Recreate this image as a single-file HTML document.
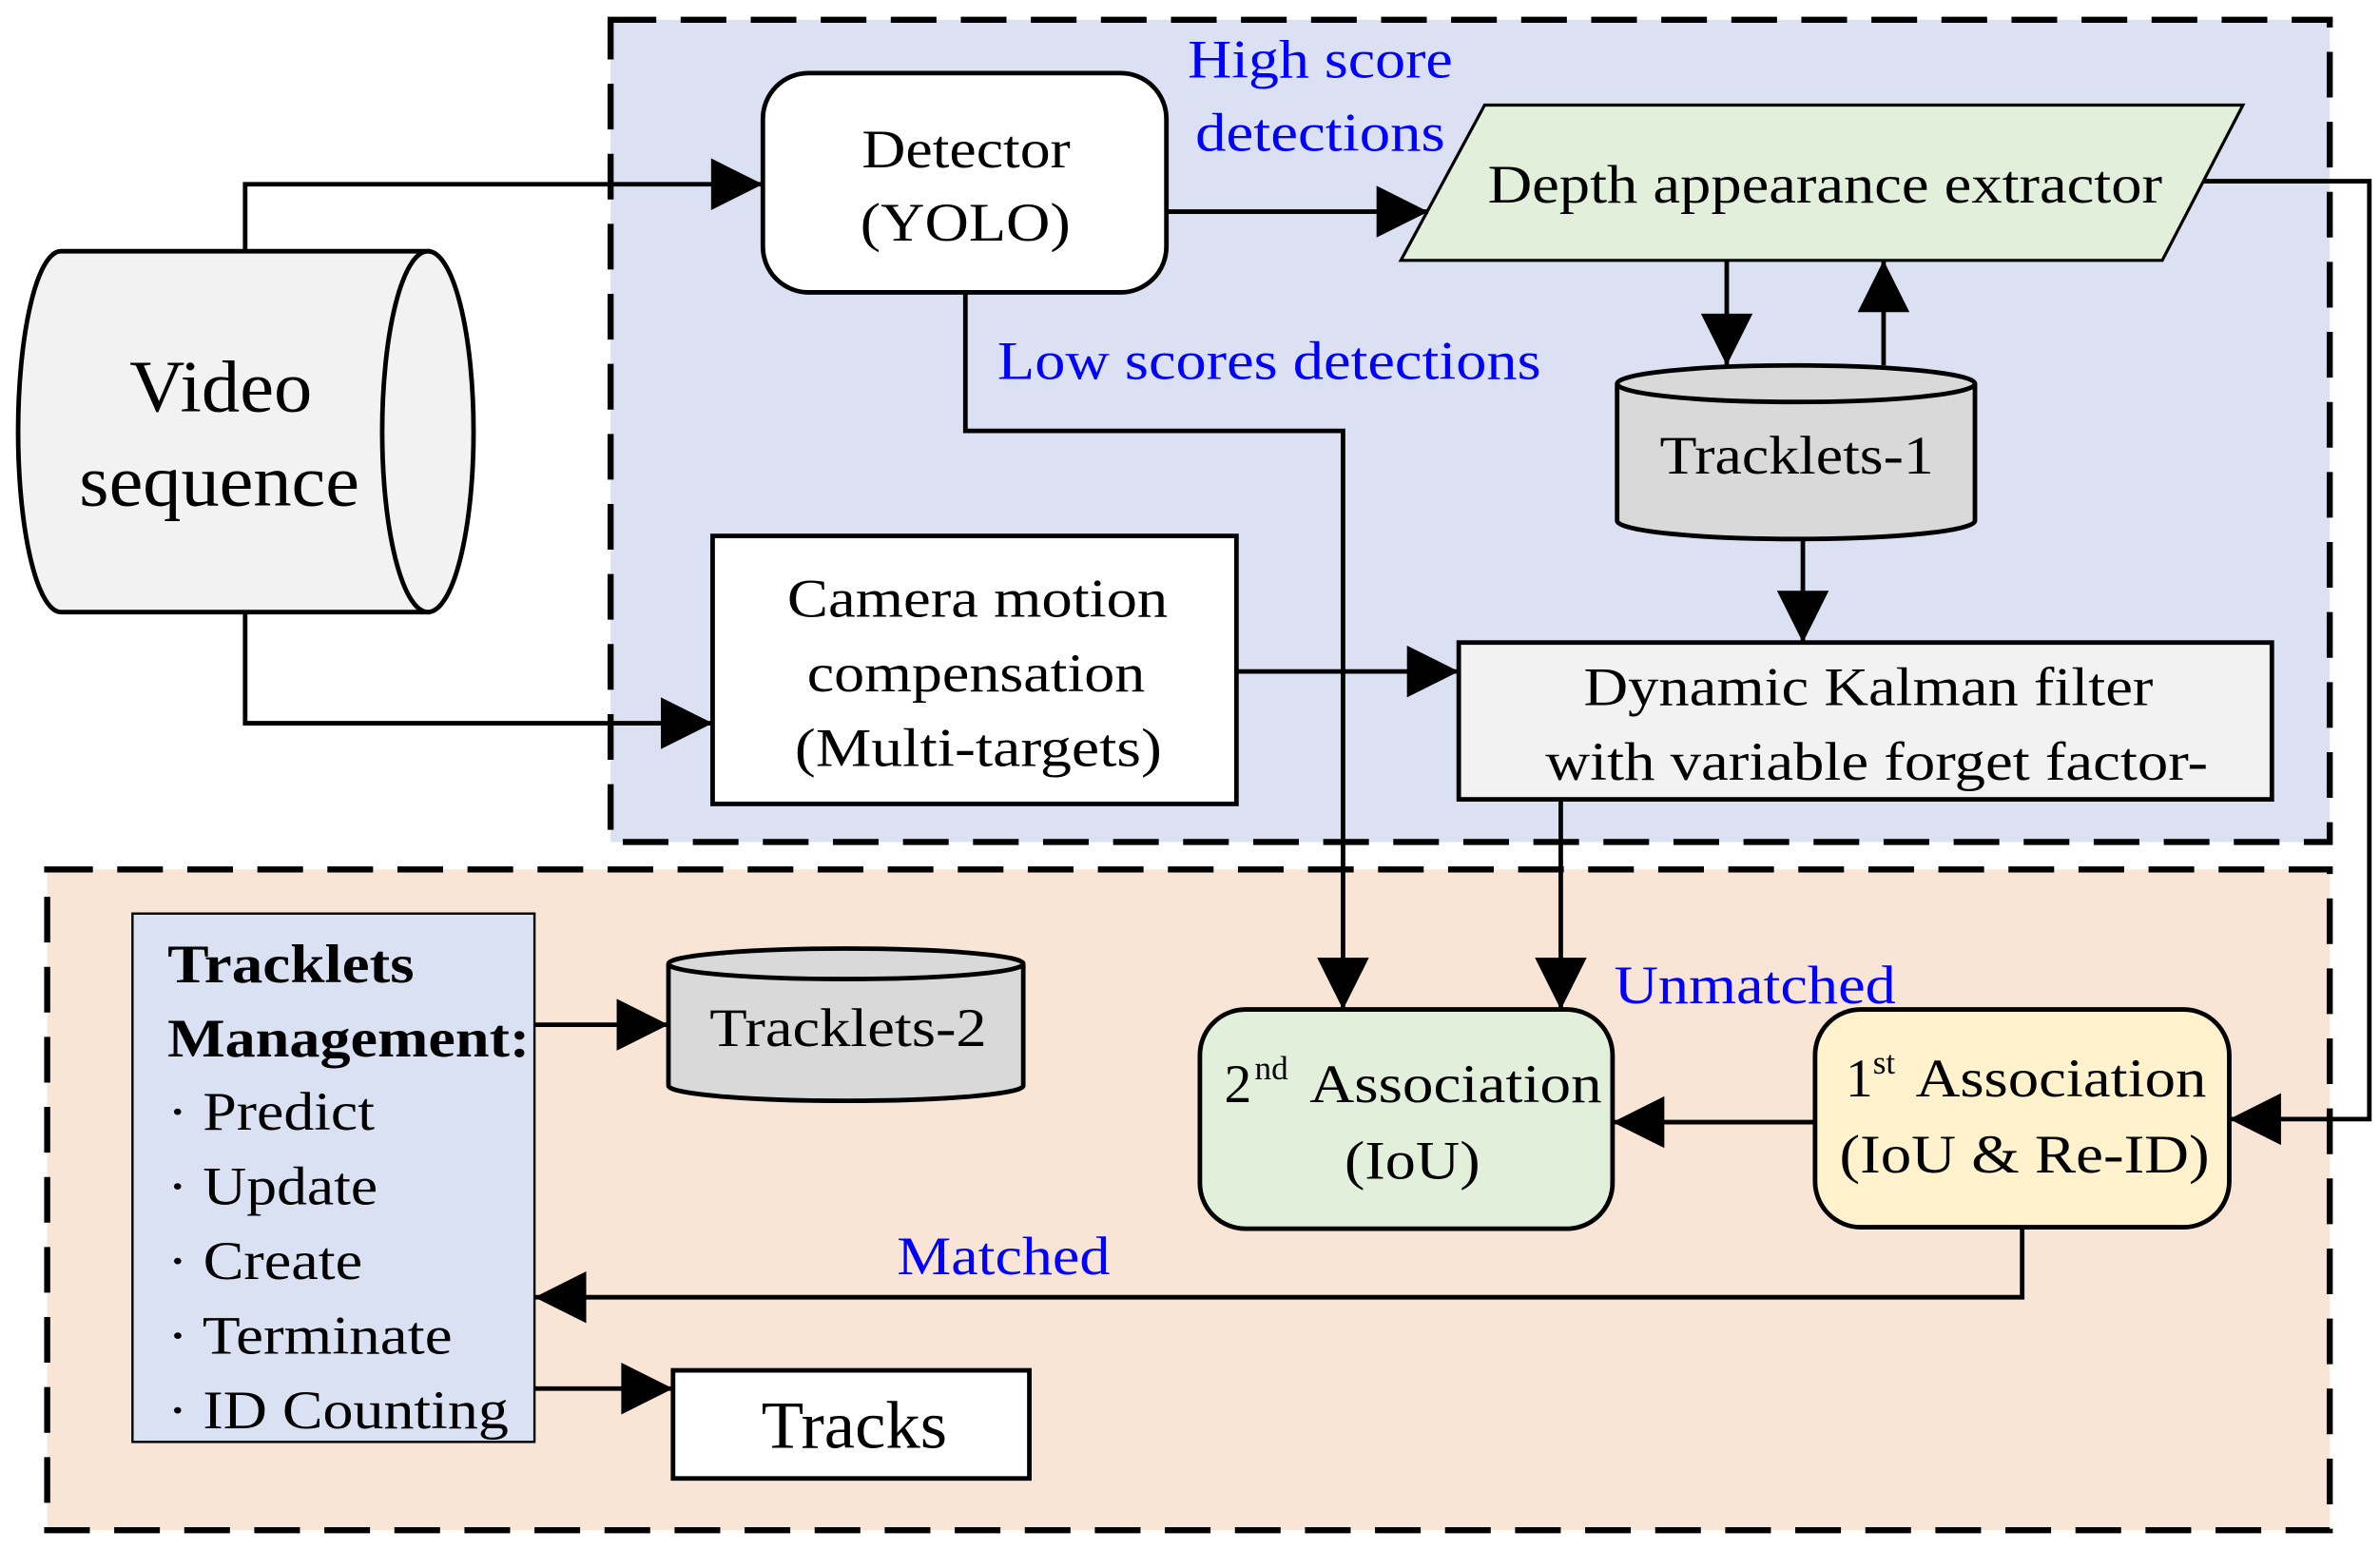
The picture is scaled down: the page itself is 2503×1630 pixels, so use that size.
<!DOCTYPE html>
<html><head><meta charset="utf-8"><style>html,body{margin:0;padding:0;background:#fff}svg{display:block}</style></head><body>
<svg width="2503" height="1630" viewBox="0 0 1563 1018" preserveAspectRatio="none" xmlns="http://www.w3.org/2000/svg" font-family="Liberation Serif, serif">
<defs>
<marker id="b" viewBox="0 0 10 10" refX="10" refY="5" markerWidth="48" markerHeight="34" markerUnits="userSpaceOnUse" orient="auto"><path d="M0,0L10,5L0,10z" fill="#000"/></marker></defs>
<rect x="401" y="13" width="1129" height="540" fill="#dbe1f3" stroke="#000" stroke-width="4" stroke-dasharray="30,16"/>
<rect x="31" y="571" width="1499" height="434" fill="#f9e5d6" stroke="#000" stroke-width="4" stroke-dasharray="30,16"/>
<g stroke="#000" stroke-width="3" fill="none">
<path d="M40,165H281V402H40A28,118 0 0 1 40,165Z" fill="#f2f2f2"/>
<ellipse cx="281" cy="283.5" rx="30" ry="118.5" fill="#f2f2f2"/>
<rect x="501" y="48" width="265" height="144" rx="30" fill="#fff"/>
<polygon points="975,69 1473,69 1420,171 920,171" fill="#e2efda" stroke-width="2"/>
<path d="M1062,252V342A117.5,12 0 0 0 1297,342V252" fill="#d9d9d9"/>
<ellipse cx="1179.5" cy="252" rx="117.5" ry="12" fill="#d9d9d9"/>
<rect x="468" y="352" width="344" height="176" fill="#fff"/>
<rect x="958" y="422" width="534" height="103" fill="#f2f2f2"/>
<rect x="87" y="600" width="264" height="347" fill="#dae1f3" stroke-width="1.5"/>
<path d="M439,633V713A116.5,10 0 0 0 672,713V633" fill="#d9d9d9"/>
<ellipse cx="555.5" cy="633" rx="116.5" ry="10" fill="#d9d9d9"/>
<rect x="788" y="663" width="271" height="144" rx="30" fill="#e2efda"/>
<rect x="1192" y="663" width="272" height="143" rx="30" fill="#fff2cc"/>
<rect x="442" y="900" width="234" height="71" fill="#fff"/>
<path d="M161,165V121H501" marker-end="url(#b)"/>
<path d="M161,402V475H468" marker-end="url(#b)"/>
<path d="M766,139H938" marker-end="url(#b)"/>
<path d="M1447,119H1556V735H1464" marker-end="url(#b)"/>
<path d="M1134,171V240" marker-end="url(#b)"/>
<path d="M1237,240V171" marker-end="url(#b)"/>
<path d="M1184,353V422" marker-end="url(#b)"/>
<path d="M812,441H958" marker-end="url(#b)"/>
<path d="M634,192V283H882V663" marker-end="url(#b)"/>
<path d="M1025,525V663" marker-end="url(#b)"/>
<path d="M1192,737H1059" marker-end="url(#b)"/>
<path d="M1328,806V852H351" marker-end="url(#b)"/>
<path d="M351,673H439" marker-end="url(#b)"/>
<path d="M351,912H442" marker-end="url(#b)"/>
</g>
<g font-size="36" fill="#000" lengthAdjust="spacingAndGlyphs">
<text x="85" y="270" font-size="48" textLength="120" lengthAdjust="spacingAndGlyphs">Video</text>
<text x="52" y="332" font-size="48" textLength="184" lengthAdjust="spacingAndGlyphs">sequence</text>
<text x="566" y="110" textLength="137" lengthAdjust="spacingAndGlyphs">Detector</text>
<text x="565" y="158" textLength="138" lengthAdjust="spacingAndGlyphs">(YOLO)</text>
<text x="977" y="133" textLength="443" lengthAdjust="spacingAndGlyphs">Depth appearance extractor</text>
<text x="1090" y="311" textLength="180" lengthAdjust="spacingAndGlyphs">Tracklets-1</text>
<text x="517" y="405" textLength="250" lengthAdjust="spacingAndGlyphs">Camera motion</text>
<text x="530" y="454" textLength="222" lengthAdjust="spacingAndGlyphs">compensation</text>
<text x="522" y="503" textLength="241" lengthAdjust="spacingAndGlyphs">(Multi-targets)</text>
<text x="1040" y="463" textLength="374" lengthAdjust="spacingAndGlyphs">Dynamic Kalman filter</text>
<text x="1015" y="512" textLength="435" lengthAdjust="spacingAndGlyphs">with variable forget factor-</text>
<text x="466" y="687" textLength="182" lengthAdjust="spacingAndGlyphs">Tracklets-2</text>
<text x="804" y="724">2</text><text x="824" y="709" font-size="22">nd</text>
<text x="860" y="724" textLength="192" lengthAdjust="spacingAndGlyphs">Association</text>
<text x="883" y="774" textLength="89" lengthAdjust="spacingAndGlyphs">(IoU)</text>
<text x="1212" y="720">1</text><text x="1230" y="705" font-size="22">st</text>
<text x="1258" y="720" textLength="191" lengthAdjust="spacingAndGlyphs">Association</text>
<text x="1208" y="770" textLength="243" lengthAdjust="spacingAndGlyphs">(IoU &amp; Re-ID)</text>
<text x="500" y="951" font-size="44" textLength="122" lengthAdjust="spacingAndGlyphs">Tracks</text>
<text x="110" y="645" font-weight="bold" textLength="162" lengthAdjust="spacingAndGlyphs">Tracklets</text>
<text x="110" y="694" font-weight="bold" textLength="238" lengthAdjust="spacingAndGlyphs">Management:</text>
<text x="110" y="742" textLength="136" lengthAdjust="spacingAndGlyphs">· Predict</text>
<text x="110" y="791" textLength="138" lengthAdjust="spacingAndGlyphs">· Update</text>
<text x="110" y="840" textLength="128" lengthAdjust="spacingAndGlyphs">· Create</text>
<text x="110" y="889" textLength="187" lengthAdjust="spacingAndGlyphs">· Terminate</text>
<text x="110" y="938" textLength="224" lengthAdjust="spacingAndGlyphs">· ID Counting</text>
</g>
<g font-size="36" fill="#0000ff">
<text x="780" y="51" textLength="174" lengthAdjust="spacingAndGlyphs">High score</text>
<text x="785" y="99" textLength="164" lengthAdjust="spacingAndGlyphs">detections</text>
<text x="655" y="249" textLength="357" lengthAdjust="spacingAndGlyphs">Low scores detections</text>
<text x="1060" y="659" textLength="185" lengthAdjust="spacingAndGlyphs">Unmatched</text>
<text x="589" y="837" textLength="140" lengthAdjust="spacingAndGlyphs">Matched</text>
</g>
</svg>
</body></html>
